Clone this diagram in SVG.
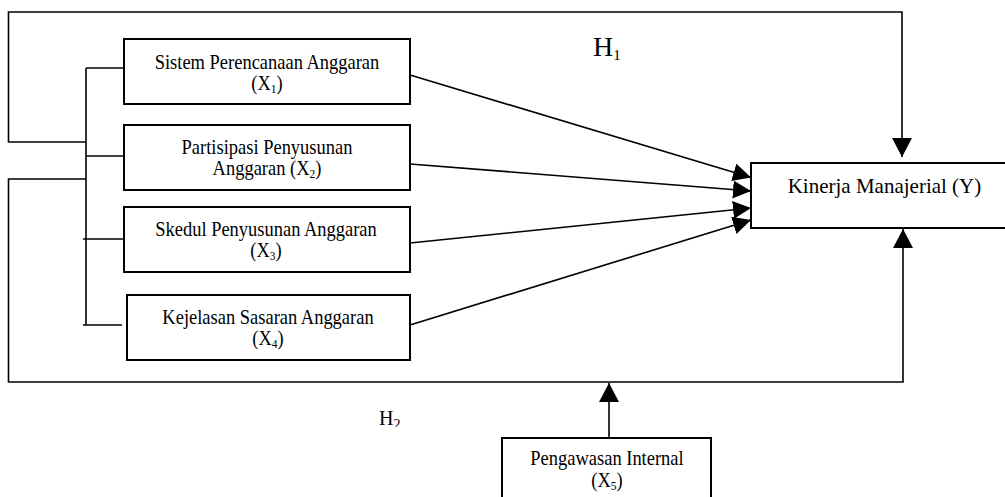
<svg xmlns="http://www.w3.org/2000/svg" width="1005" height="497" viewBox="0 0 1005 497">
<style>
.box{fill:#fff;stroke:#000;stroke-width:2}
.ln{fill:none;stroke:#000;stroke-width:1.6}
.t{font-family:"Liberation Serif","Times New Roman",serif;font-size:21px;fill:#000;text-anchor:middle}
.sub{font-size:13px}
.h{font-family:"Liberation Serif","Times New Roman",serif;fill:#000}
</style>
<defs>
<marker id="ah" viewBox="0 0 18 18" refX="18" refY="9" markerWidth="18" markerHeight="18" markerUnits="userSpaceOnUse" orient="auto">
<path d="M0,0 L18,9 L0,18 z" fill="#000"/>
</marker>
<marker id="av" viewBox="0 0 19 20" refX="19" refY="10" markerWidth="19" markerHeight="20" markerUnits="userSpaceOnUse" orient="auto">
<path d="M0,0 L19,10 L0,20 z" fill="#000"/>
</marker>
<clipPath id="h2clip"><rect x="360" y="400" width="60" height="27"/></clipPath>
</defs>
<rect width="1005" height="497" fill="#fff"/>
<g id="connectors">
<path class="ln" d="M86,142 H8.5 V12 H902 V157" marker-end="url(#av)"/>
<path class="ln" d="M86,179 H8.5 V382 H903 V229" marker-end="url(#av)"/>
<path class="ln" d="M86,68 V325"/>
<path class="ln" d="M86,68 H124"/>
<path class="ln" d="M86,156 H126"/>
<path class="ln" d="M83,239 H124"/>
<path class="ln" d="M83,325 H122"/>
<path class="ln" d="M410,75 L751,177.5" marker-end="url(#ah)"/>
<path class="ln" d="M410,164 L751,191" marker-end="url(#ah)"/>
<path class="ln" d="M410,243 L751,208" marker-end="url(#ah)"/>
<path class="ln" d="M410,325 L751,220" marker-end="url(#ah)"/>
<path class="ln" d="M609,438 V383" marker-end="url(#av)"/>
</g>
<g id="n1">
<rect class="box" x="124" y="39" width="286" height="65"/>
<g transform="translate(267,0) scale(0.88,1)">
<text class="t" x="0" y="69">Sistem Perencanaan Anggaran</text>
<text class="t" x="0" y="90">(X<tspan class="sub" dy="3">1</tspan><tspan dy="-3">)</tspan></text>
</g>
</g>
<g id="n2">
<rect class="box" x="124" y="125" width="286" height="65"/>
<g transform="translate(267,0) scale(0.88,1)">
<text class="t" x="0" y="154">Partisipasi Penyusunan</text>
<text class="t" x="0" y="175">Anggaran (X<tspan class="sub" dy="3">2</tspan><tspan dy="-3">)</tspan></text>
</g>
</g>
<g id="n3">
<rect class="box" x="124" y="207" width="286" height="65"/>
<g transform="translate(266,0) scale(0.88,1)">
<text class="t" x="0" y="236">Skedul Penyusunan Anggaran</text>
<text class="t" x="0" y="257">(X<tspan class="sub" dy="3">3</tspan><tspan dy="-3">)</tspan></text>
</g>
</g>
<g id="n4">
<rect class="box" x="127" y="295" width="283" height="65"/>
<g transform="translate(268,0) scale(0.88,1)">
<text class="t" x="0" y="324">Kejelasan Sasaran Anggaran</text>
<text class="t" x="0" y="345">(X<tspan class="sub" dy="3">4</tspan><tspan dy="-3">)</tspan></text>
</g>
</g>
<g id="ny">
<rect class="box" x="751" y="163" width="267" height="65"/>
<text class="t" x="884.5" y="193">Kinerja Manajerial (Y)</text>
</g>
<g id="nx5">
<rect class="box" x="502" y="438" width="209" height="80"/>
<g transform="translate(607,0) scale(0.88,1)">
<text class="t" x="0" y="465">Pengawasan Internal</text>
<text class="t" x="0" y="487">(X<tspan class="sub" dy="3">5</tspan><tspan dy="-3">)</tspan></text>
</g>
</g>
<g id="labels">
<text class="h" x="593" y="56" font-size="28">H<tspan font-size="15" dy="4">1</tspan></text>
<g clip-path="url(#h2clip)">
<text class="h" x="379" y="425" font-size="20">H<tspan font-size="14" dy="4">2</tspan></text>
</g>
</g>
</svg>
